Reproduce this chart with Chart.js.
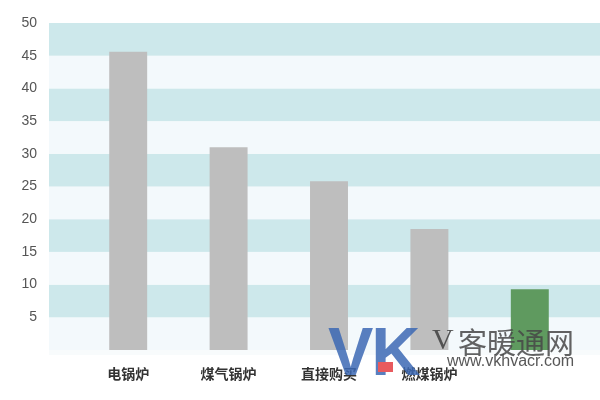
<!DOCTYPE html>
<html>
<head>
<meta charset="utf-8">
<script src="https://cdn.jsdelivr.net/npm/chart.js@4"></script>
<style>
  body { margin: 0; background: #fff; }
  #wrap { position: relative; width: 600px; height: 400px; }
  .wm { position: absolute; white-space: nowrap; pointer-events: none; }
</style>
</head>
<body>
<div id="wrap">
  <canvas id="chart" width="600" height="400"></canvas>
  <!-- watermark -->
  <div class="wm" style="left:328px;top:312px;font:bold 68px 'Liberation Sans',sans-serif;color:rgba(60,105,180,0.85);letter-spacing:-2px;">VK</div>
  <div class="wm" style="left:378px;top:362px;width:15px;height:10px;background:#e85a5e;"></div>
  <div class="wm" style="left:432px;top:322px;font:30px 'Liberation Serif',serif;color:rgba(70,70,70,0.9);">V</div>
  <div class="wm" style="left:458px;top:320px;font:29px 'Noto Sans CJK SC',sans-serif;color:rgba(70,70,70,0.85);">客暖通网</div>
  <div class="wm" style="left:447px;top:352px;font:16px 'Liberation Sans',sans-serif;color:rgba(70,70,70,0.9);">www.vkhvacr.com</div>
</div>
<script>
// Chart data
const categories = ['电锅炉', '煤气锅炉', '直接购买', '燃煤锅炉', ''];
const values = [45.6, 31.0, 25.8, 18.5, 9.3];
const barColors = ['#bebebe', '#bebebe', '#bebebe', '#bebebe', '#5f9a5f'];
const yTicks = [5, 10, 15, 20, 25, 30, 35, 40, 45, 50];

// Alternating background bands
const bandPlugin = {
    id: 'bands',
    beforeDatasetsDraw(chart) {
        const ctx = chart.ctx;
        const y = chart.scales.y;
        const left = 49;
        const right = chart.width;
        ctx.save();
        for (let v = 0; v < 50; v += 5) {
            const top = y.getPixelForValue(v + 5);
            const bottom = y.getPixelForValue(v);
            ctx.fillStyle = (v / 5) % 2 === 1 ? '#cde8eb' : '#f3f9fc';
            ctx.fillRect(left, top, right - left, bottom - top);
        }
        // faint strip under the axis
        ctx.fillStyle = '#f8fbfc';
        ctx.fillRect(left, y.getPixelForValue(0), right - left, 5);
        ctx.restore();
    }
};

const ctx = document.getElementById('chart').getContext('2d');
const chart = new Chart(ctx, {
    type: 'bar',
    data: {
        labels: categories,
        datasets: [{
            data: values,
            backgroundColor: barColors,
            borderWidth: 0,
            barPercentage: 0.378,
            categoryPercentage: 1
        }]
    },
    options: {
        responsive: false,
        animation: false,
        layout: { padding: { top: 23, right: 20, bottom: 0, left: 0 } },
        plugins: {
            legend: { display: false },
            tooltip: { enabled: false }
        },
        scales: {
            x: {
                grid: { display: false },
                border: { display: false },
                ticks: {
                    color: '#333',
                    padding: 7,
                    font: { family: "'Noto Sans CJK SC', sans-serif", size: 14, weight: 'bold' }
                },
                afterFit: s => { s.height = 50; }
            },
            y: {
                min: 0,
                max: 50,
                // invisible tick marks push the labels out to the left
                grid: { display: true, drawOnChartArea: false, drawTicks: true, tickLength: 36, color: 'rgba(0,0,0,0)' },
                border: { display: false },
                afterBuildTicks: s => { s.ticks = yTicks.map(v => ({ value: v })); },
                ticks: {
                    color: '#555',
                    padding: 5,
                    font: { family: "'Liberation Sans', sans-serif", size: 14 }
                },
                afterFit: s => { s.width = 78; }
            }
        }
    },
    plugins: [bandPlugin]
});
</script>
</body>
</html>
